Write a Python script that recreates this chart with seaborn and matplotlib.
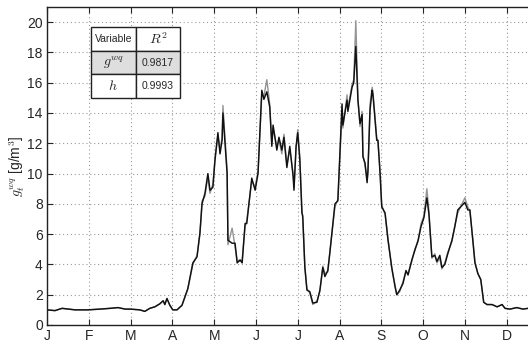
import numpy as np
import pandas as pd
import matplotlib
matplotlib.use("Agg")
import matplotlib.pyplot as plt
import seaborn as sns

# x position in months since 1 Jan (month ticks equally spaced)
month_pos = [0.00, 0.19, 0.36, 0.67, 0.98, 1.27, 1.51, 1.70, 1.87, 1.99,
             2.22, 2.34, 2.46, 2.58, 2.70, 2.78, 2.82, 2.87, 2.94, 3.01,
             3.11, 3.23, 3.37, 3.49, 3.59, 3.66, 3.71, 3.78, 3.85, 3.90,
             3.97, 4.02, 4.09, 4.14, 4.19, 4.21, 4.31, 4.33, 4.43, 4.50,
             4.55, 4.62, 4.67, 4.74, 4.78, 4.90, 4.98, 5.05, 5.14, 5.19,
             5.26, 5.33, 5.38, 5.41, 5.50, 5.55, 5.62, 5.67, 5.74, 5.81,
             5.89, 5.91, 5.96, 6.00, 6.05, 6.10, 6.12, 6.17, 6.22, 6.29,
             6.36, 6.46, 6.53, 6.60, 6.65, 6.72, 6.77, 6.89, 6.96, 7.06,
             7.08, 7.18, 7.20, 7.30, 7.34, 7.39, 7.44, 7.49, 7.54, 7.56,
             7.61, 7.66, 7.68, 7.73, 7.78, 7.80, 7.89, 7.92, 7.97, 8.01,
             8.09, 8.16, 8.25, 8.33, 8.37, 8.44, 8.52, 8.59, 8.64, 8.73,
             8.80, 8.88, 8.95, 9.02, 9.09, 9.14, 9.21, 9.28, 9.33, 9.40,
             9.45, 9.52, 9.59, 9.69, 9.76, 9.83, 9.93, 10.00, 10.07, 10.12,
             10.19, 10.24, 10.31, 10.38, 10.45, 10.53, 10.65, 10.77, 10.89, 10.96,
             11.08, 11.24, 11.39, 11.51]

# black series (model)
g_model = [1.0, 0.95, 1.1, 1.0, 1.0, 1.05, 1.1, 1.15, 1.05, 1.05,
           1.0, 0.9, 1.1, 1.2, 1.4, 1.6, 1.35, 1.75, 1.3, 1.0,
           1.0, 1.3, 2.4, 4.1, 4.5, 6.1, 8.0, 8.7, 10.0, 8.9,
           9.1, 10.9, 12.7, 11.3, 12.2, 14.0, 10.0, 5.6, 5.4, 5.4,
           4.1, 4.3, 4.1, 6.7, 6.7, 9.7, 8.9, 10.0, 15.5, 14.9,
           15.4, 14.4, 11.8, 13.2, 11.55, 12.4, 11.55, 12.4, 10.4, 11.8,
           9.8, 8.9, 11.8, 12.7, 10.9, 7.4, 7.2, 3.8, 2.3, 2.2,
           1.45, 1.5, 2.3, 3.8, 3.2, 3.6, 4.8, 8.0, 8.2, 14.6,
           13.2, 14.85, 14.1, 15.7, 16.0, 18.4, 14.85, 13.3, 13.9, 11.1,
           10.7, 9.4, 10.2, 14.2, 15.5, 15.2, 12.2, 12.2, 10.0, 7.8,
           7.4, 5.6, 3.8, 2.5, 2.0, 2.3, 2.75, 3.6, 3.3, 4.3,
           4.9, 5.6, 6.5, 7.1, 8.4, 7.3, 4.5, 4.6, 4.2, 4.6,
           3.8, 4.0, 4.7, 5.6, 6.5, 7.6, 7.9, 8.1, 7.6, 7.6,
           5.6, 4.1, 3.4, 3.0, 1.5, 1.35, 1.35, 1.2, 1.35, 1.1,
           1.05, 1.15, 1.05, 1.1]

# gray series (observed)
g_obs = [1.0, 0.95, 1.1, 1.0, 1.0, 1.05, 1.1, 1.15, 1.05, 1.05,
         1.0, 0.9, 1.1, 1.2, 1.4, 1.6, 1.35, 1.75, 1.3, 1.0,
         1.0, 1.3, 2.4, 4.0, 4.6, 6.0, 8.2, 8.5, 9.8, 8.7,
         9.3, 11.0, 12.5, 11.6, 12.4, 14.5, 10.2, 5.3, 6.4, 5.2,
         4.3, 4.2, 4.3, 6.5, 6.9, 9.5, 9.1, 10.2, 15.2, 15.1,
         16.2, 14.6, 12.0, 13.0, 11.8, 12.2, 11.3, 12.6, 10.6, 11.6,
         10.0, 9.1, 11.6, 12.9, 11.1, 7.6, 7.0, 3.9, 2.4, 2.1,
         1.35, 1.6, 2.2, 3.9, 3.4, 3.5, 4.9, 7.8, 8.3, 14.0,
         13.0, 15.2, 14.3, 15.9, 16.2, 20.1, 15.0, 13.1, 14.1, 11.3,
         10.5, 9.6, 10.0, 14.6, 15.7, 15.4, 12.4, 12.0, 10.2, 7.9,
         7.3, 5.7, 3.7, 2.6, 2.0, 2.2, 2.9, 3.5, 3.4, 4.2,
         5.0, 5.5, 6.7, 7.2, 9.0, 7.5, 4.4, 4.7, 4.1, 4.4,
         3.7, 4.1, 4.8, 5.5, 6.6, 7.4, 8.0, 8.4, 7.8, 7.5,
         5.7, 4.2, 3.4, 3.0, 1.5, 1.35, 1.35, 1.2, 1.35, 1.1,
         1.05, 1.15, 1.05, 1.1]

month_labels = ["J", "F", "M", "A", "M", "J", "J", "A", "S", "O", "N", "D"]
y_ticks = [0, 2, 4, 6, 8, 10, 12, 14, 16, 18, 20]

table_rows = [["Variable", r"$R^2$"],
              [r"$g^{wq}$", "0.9817"],
              [r"$h$", "0.9993"]]

sns.set_theme(style="ticks")
plt.rcParams["font.family"] = ["Liberation Sans", "DejaVu Sans"]
plt.rcParams["mathtext.fontset"] = "cm"

df = pd.DataFrame({"month": month_pos, "model": g_model, "obs": g_obs})

fig = plt.figure(figsize=(5.28, 3.44), dpi=100)
ax = fig.add_axes([47 / 528, 19 / 344, 481 / 528, 318 / 344])

sns.lineplot(data=df, x="month", y="obs", ax=ax, color="#949494", lw=1.0,
             estimator=None, sort=False)
sns.lineplot(data=df, x="month", y="model", ax=ax, color="#111111", lw=1.05,
             estimator=None, sort=False)

ax.set_xlim(0, 11.51)
ax.set_ylim(0, 21)
ax.set_xticks(range(12))
ax.set_xticklabels(month_labels)
ax.set_yticks(y_ticks)
ax.tick_params(direction="in", labelsize=10, length=4, width=0.8,
               top=True, bottom=True, left=True, right=False, pad=3)
ax.grid(True, linestyle=(0, (1, 2.5)), color="#9a9a9a", lw=0.8)
for s in ["top", "left", "bottom"]:
    ax.spines[s].set_color("#222222")
    ax.spines[s].set_linewidth(1.0)
ax.spines["right"].set_visible(False)
ax.set_xlabel("")
ax.set_ylabel(r"$g_t^{wq}$ [g/m$^3$]", fontsize=10)
ax.yaxis.set_label_coords(-0.042, 0.5)

tbl = ax.table(cellText=table_rows, cellLoc="center",
               bbox=[44 / 481, (325 - 98) / 318, 89 / 481, 71 / 318])
tbl.set_zorder(10)
tbl.auto_set_font_size(False)
for (r, c), cell in tbl.get_celld().items():
    cell.set_edgecolor("#222222")
    cell.set_linewidth(1.0)
    txt = cell.get_text()
    if (r, c) == (0, 0) or c == 1 and r > 0:
        txt.set_fontsize(7.5)
    else:
        txt.set_fontsize(10)
    if r == 1:
        cell.set_facecolor("#dedede")
    else:
        cell.set_facecolor("white")

fig.savefig("out.png", dpi=100)
